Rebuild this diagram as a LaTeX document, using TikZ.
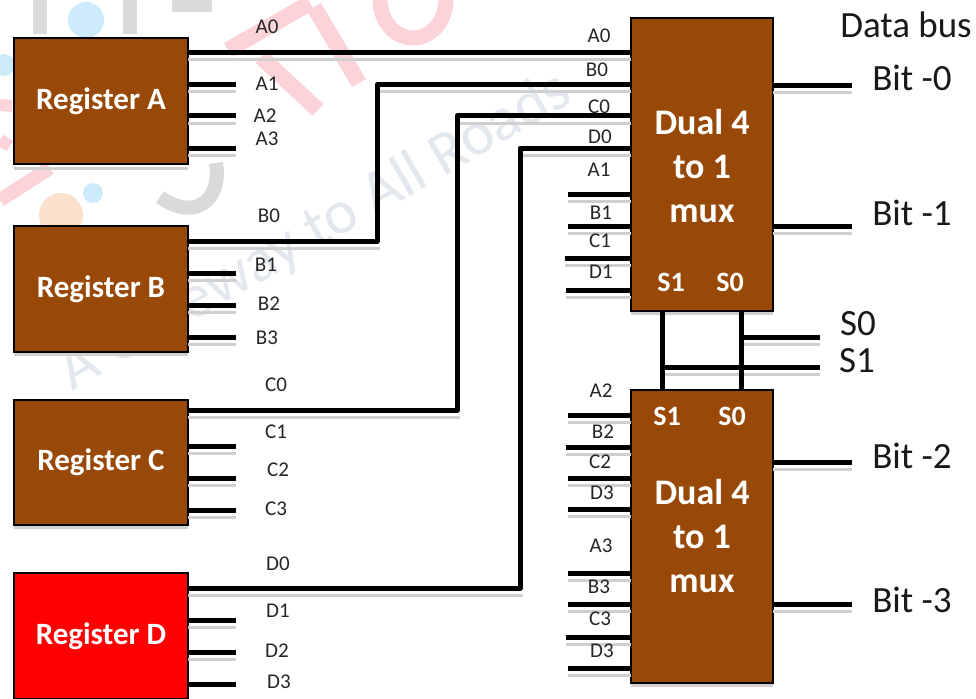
\documentclass[tikz,border=0pt]{standalone}
\usepackage{fontspec}
\setmainfont{Carlito}
\definecolor{boxbrown}{HTML}{984807}
\definecolor{wmpink}{HTML}{FBD3D8}
\definecolor{wmgrey}{HTML}{DADADA}
\definecolor{wmblue}{HTML}{CDEBFB}
\definecolor{wmorange}{HTML}{FBE0CE}
\definecolor{wmslate}{HTML}{E3E8EF}
\definecolor{shade}{HTML}{CFCFCF}
\tikzset{
  every node/.style={inner sep=0pt,outer sep=0pt},
  regbox/.style={draw=black,line width=1.2pt,fill=boxbrown,minimum width=174pt,text=white,font=\fontsize{31}{31}\selectfont\bfseries,align=center},
  muxbox/.style={draw=black,line width=1.2pt,fill=boxbrown,minimum width=142pt,minimum height=293pt},
  muxtext/.style={text=white,font=\fontsize{36}{44}\selectfont\bfseries,align=center},
  seltext/.style={text=white,font=\fontsize{28}{28}\selectfont\bfseries},
  sig/.style={font=\fontsize{21}{21}\selectfont,text=black!85},
  big/.style={font=\fontsize{37}{37}\selectfont,text=black!90},
  wire/.style={draw=black,line width=5pt,line join=round},
  wireshade/.style={draw=shade,line width=3pt,line join=round}
}
\begin{document}
\begin{tikzpicture}[x=1pt,y=-1pt]
\useasboundingbox (0,0) rectangle (976,698);
\fill[white] (0,0) rectangle (976,698);
% faint background watermark
\begin{scope}
\fill[wmblue] (86,20) circle (18);
\fill[wmblue] (93,193) circle (10);
\fill[wmblue] (4,65) circle (11);
\fill[wmorange] (61,215) circle (22);
\draw[wmgrey,line width=14pt] (40,0) -- (40,34);
\draw[wmgrey,line width=14pt] (130,0) -- (130,34);
\draw[wmgrey,line width=13pt] (172,6) -- (212,6);
\draw[wmgrey,line width=14pt] (216,163) .. controls (222,200) and (195,222) .. (160,197);
\draw[wmpink,line width=16pt] (228,50) -- (310,3);
\draw[wmpink,line width=16pt] (261,57) -- (318,110);
\draw[wmpink,line width=16pt] (314,7) -- (359,83);
\draw[wmpink,line width=15pt] (380,0) arc (180:0:33 and 38);
\draw[wmpink,line width=14pt] (0,200) -- (50,168);
\draw[wmpink,line width=12pt] (0,105) -- (12,106);
\draw[wmpink,line width=12pt] (0,140) -- (10,146);
\node[rotate=30,text=wmslate,font=\fontsize{62}{62}\selectfont] at (315,232) {A Gateway to All Roads};
\end{scope}
% nodes
\node[regbox,minimum height=126pt] (ra) at (101,101) {\raisebox{-1.5pt}{Register A}};
\node[regbox,minimum height=126pt] (rb) at (101,289) {\raisebox{-1.5pt}{Register B}};
\node[regbox,minimum height=125pt] (rc) at (101,462.5) {\raisebox{-1.5pt}{Register C}};
\node[regbox,minimum height=126pt,fill=red] (rd) at (101,636) {\raisebox{-1.5pt}{Register D}};
\node[muxbox] (ma) at (702,164.5) {};
\node[muxbox] (mb) at (702,536.5) {};
\node[muxtext] (tma) at (702,166) {Dual 4\\to 1\\mux};
\node[muxtext] (tmb) at (702,536) {Dual 4\\to 1\\mux};
\node[seltext] at (671,282) {S1};
\node[seltext] at (730,282) {S0};
\node[seltext] at (667,416) {S1};
\node[seltext] at (732,416) {S0};
% free ends and bends
\foreach \n/\x/\y in {a1/236/85,a2/236/116,a3/236/148,
  b1/236/273,b2/236/305,b3/236/337,
  c1/236/446,c2/236/478,c3/236/510,
  d1/236/620,d2/236/652,d3/236/684,
  ia1/568/194,ib1/568/226,ic1/565/258,id1/566/290,
  ia2/568/415,ib2/566/447,ic2/568/478,id2/568/509,
  ia3/568/573,ib3/568/604,ic3/566/637,id3/568/668,
  q0/852/86,q1/852/226,q2/852/462,q3/852/604,
  s0e/820/337,s1e/820/367,s1j/662/367,s0j/741/337}
  {\coordinate (\n) at (\x,\y);}
% shadows
\foreach \y/\xa/\xb in {60/188/631,92/188/236,123/188/236,155/188/236,
  248/188/380,280/188/236,312/188/236,344/188/236,
  417/188/460,453/188/236,485/188/236,517/188/236,
  595/188/523,627/188/236,659/188/236,
  92/380/631,123/460/631,155/523/631,
  201/568/631,233/568/631,265/565/631,297/566/631,
  422/568/631,454/566/631,485/568/631,516/568/631,
  580/568/631,611/568/631,644/566/631,675/568/631,
  93/773/852,233/773/852,469/773/852,611/773/852,
  344/741/820,374/662/820,
  313/631/773,685/631/773,168/14/188,354/14/188,527/14/188}
  {\draw[wireshade] (\xa,\y) -- (\xb,\y);}
% wires
\draw[wire] (ra.east |- 0,53) -- (ma.west |- 0,53);
\draw[wire] (ra.east |- a1) -- (a1);
\draw[wire] (ra.east |- a2) -- (a2);
\draw[wire] (ra.east |- a3) -- (a3);
\draw[wire] (rb.east |- 0,241) -- (377,241) -- (377,85) -- (ma.west |- 0,85);
\draw[wire] (rb.east |- b1) -- (b1);
\draw[wire] (rb.east |- b2) -- (b2);
\draw[wire] (rb.east |- b3) -- (b3);
\draw[wire] (rc.east |- 0,410) -- (457,410) -- (457,116) -- (ma.west |- 0,116);
\draw[wire] (rc.east |- c1) -- (c1);
\draw[wire] (rc.east |- c2) -- (c2);
\draw[wire] (rc.east |- c3) -- (c3);
\draw[wire] (rd.east |- 0,588) -- (520,588) -- (520,148) -- (ma.west |- 0,148);
\draw[wire] (rd.east |- d1) -- (d1);
\draw[wire] (rd.east |- d2) -- (d2);
\draw[wire] (rd.east |- d3) -- (d3);
\foreach \p in {ia1,ib1,ic1,id1} {\draw[wire] (\p) -- (ma.west |- \p);}
\foreach \p in {ia2,ib2,ic2,id2,ia3,ib3,ic3,id3} {\draw[wire] (\p) -- (mb.west |- \p);}
\draw[wire] (ma.east |- q0) -- (q0);
\draw[wire] (ma.east |- q1) -- (q1);
\draw[wire] (mb.east |- q2) -- (q2);
\draw[wire] (mb.east |- q3) -- (q3);
\draw[wire] (ma.south -| s1j) -- (mb.north -| s1j);
\draw[wire] (ma.south -| s0j) -- (mb.north -| s0j);
\draw[wire] (s0j) -- (s0e);
\draw[wire] (s1j) -- (s1e);
% signal labels
\foreach \t/\x/\y in {A0/267/27,A1/267/84,A2/265/116,A3/267/139,
  B0/269/216,B1/266/265,B2/269/304,B3/267/338,
  C0/276/385,C1/276/432,C2/278/470,C3/276/509,
  D0/278/564,D1/278/611,D2/277/651,D3/279/682,
  A0/599/36,B0/597/70,C0/599/107,D0/600/137,
  A1/599/170,B1/601/213,C1/600/241,D1/601/272,
  A2/601/391,B2/603/432,C2/600/462,D3/602/493,
  A3/601/546,B3/599/587,C3/600/619,D3/602/651}
  {\node[sig] at (\x,\y) {\t};}
% bus labels
\node[big] at (906,25) {Data bus};
\node[big] at (912,78) {Bit -0};
\node[big] at (912,213) {Bit -1};
\node[big] at (912,456) {Bit -2};
\node[big] at (912,600) {Bit -3};
\node[big] at (858,324) {S0};
\node[big] at (857,361) {S1};
\end{tikzpicture}
\end{document}
